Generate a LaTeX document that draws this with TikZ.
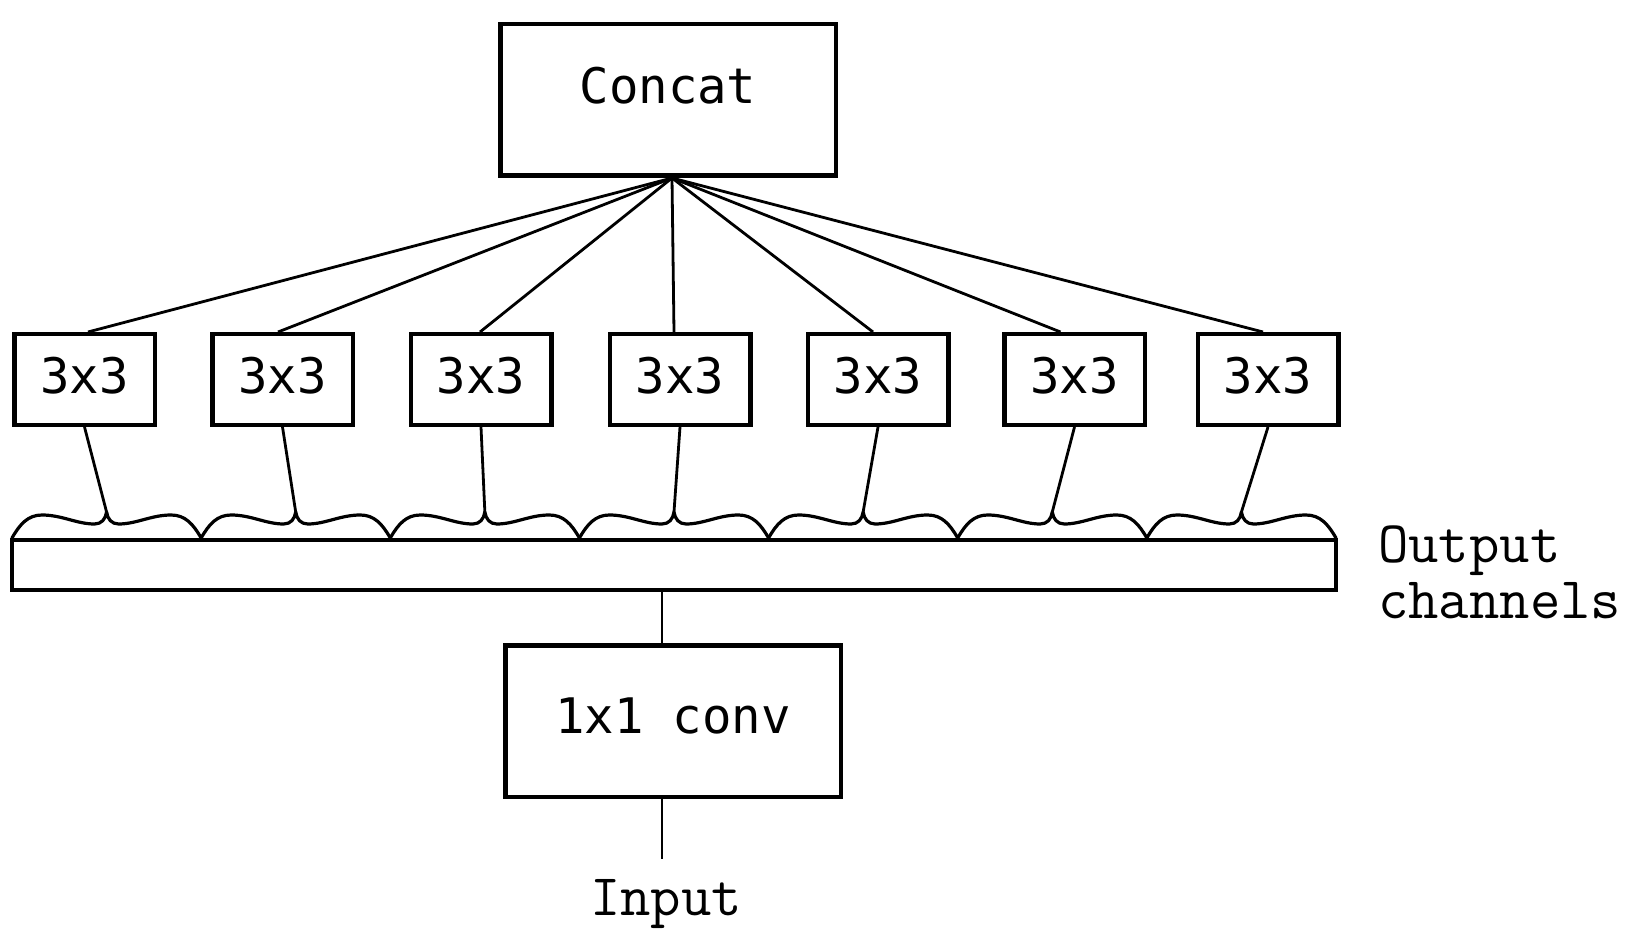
\documentclass[tikz,border=0pt]{standalone}
\usepackage{fontspec}
\newfontfamily\boxfont{DejaVu Sans Mono}
\begin{document}
\begin{tikzpicture}[x=1pt,y=-1pt,
  blk/.style={draw, line width=4.5pt, minimum width=140.5pt, minimum height=90.5pt, inner sep=0pt,
    font=\boxfont\fontsize{49}{58}\selectfont, text height=36pt, text depth=9pt},
  big/.style={draw, line width=4.5pt, minimum width=335.5pt, minimum height=151.5pt, inner sep=0pt,
    font=\boxfont\fontsize{49}{58}\selectfont},
  wire/.style={line width=2.8pt},
  brc/.style={line width=3.2pt, line join=round, line cap=round},
  lbl/.style={font=\ttfamily\fontsize{59}{56}\selectfont, inner sep=0pt}]
\fill[white] (0,0) rectangle (1638,949);
\useasboundingbox (0,0) rectangle (1638,949);

\node[big, text height=35pt, text depth=27pt] (concat) at (668,100) {Concat};
\foreach \i/\x in {1/84.5,2/282.5,3/481,4/680,5/878,6/1074.5,7/1268}
  \node[blk] (b\i) at (\x,379.5) {3x3};
\node[draw, line width=4pt, minimum width=1324pt, minimum height=50pt, inner sep=0pt] (bar) at (674,565) {};
\node[big, text height=35pt, text depth=11pt] (conv) at (673,721) {1x1 conv};
\node[lbl, anchor=base, inner ysep=20pt] (inp) at (666,915) {Input};
\node[lbl, anchor=north west, align=left] (out) at (1378,526) {Output\\channels};

\foreach \i/\d in {1/3.5,2/-4.5,3/-1,4/-6,5/-5,6/-14,7/-5}
  \draw[wire] ([xshift=4pt]concat.south) -- ([xshift=\d pt]b\i.north);

\foreach \i in {1,...,7} {
  \pgfmathsetmacro\xl{12+189.14*(\i-1)}
  \pgfmathsetmacro\xr{\xl+189.14}
  \pgfmathsetmacro\xm{\xl+94.57}
  \coordinate (t\i) at (\xm,512);
  \draw[brc] (\xl,538) .. controls (\xl+8,524) and (\xl+16,515) .. (\xl+30,515)
    .. controls (\xl+50,515) and (\xm-30,524) .. (\xm-12,524)
    .. controls (\xm-5,524) and (\xm-1,519) .. (t\i)
    .. controls (\xm+1,519) and (\xm+5,524) .. (\xm+12,524)
    .. controls (\xm+30,524) and (\xr-50,515) .. (\xr-30,515)
    .. controls (\xr-16,515) and (\xr-8,524) .. (\xr,538);
  \draw[wire] (b\i.south) -- (t\i);
}

\coordinate (stem) at (662,600);
\draw[wire] (bar.south -| stem) -- (conv.north -| stem);
\draw[wire] (conv.south -| stem) -- (inp.north -| stem);
\end{tikzpicture}
\end{document}
